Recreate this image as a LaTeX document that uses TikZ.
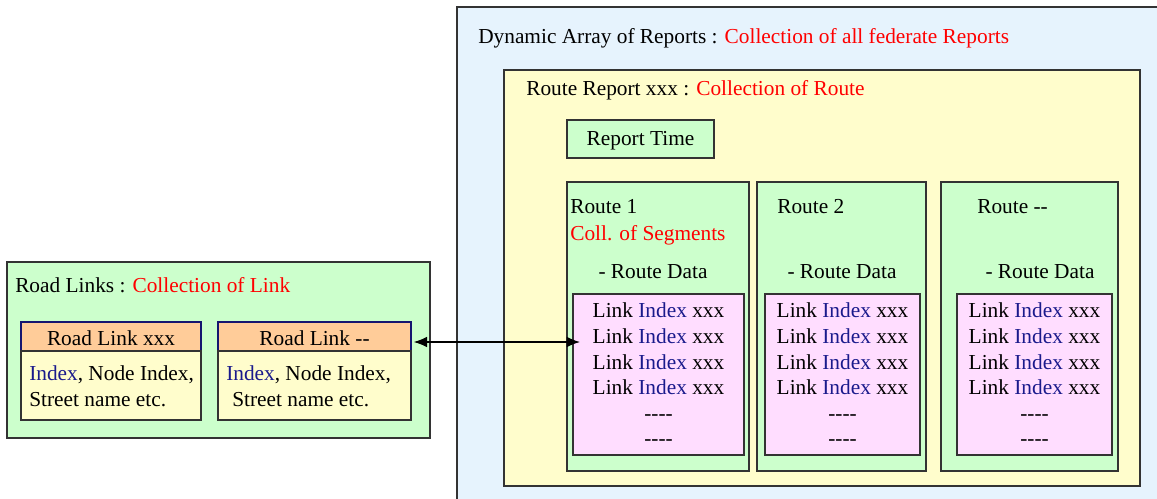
\documentclass[tikz,border=0pt]{standalone}
\usepackage{fontspec}
\setmainfont{Liberation Serif}
\usetikzlibrary{arrows.meta,positioning,fit}
\definecolor{reportblue}{HTML}{E6F3FD}
\definecolor{reportyellow}{HTML}{FFFDCC}
\definecolor{routegreen}{HTML}{CCFFCC}
\definecolor{datapink}{HTML}{FFDDFF}
\definecolor{headorange}{HTML}{FFCC99}
\definecolor{idxblue}{HTML}{1A1A8C}
\newcommand\linkrow{Link \textcolor{idxblue}{Index} xxx}
\newcommand\dashrow{-{}-{}-{}-}
\newcommand\routedata{\linkrow\\\linkrow\\\linkrow\\\linkrow\\\dashrow\\\dashrow}

\begin{document}
\begin{tikzpicture}[x=0.75pt,y=-0.75pt,
font=\fontsize{16}{19.2}\selectfont,
box/.style={
% The shape:
rectangle, inner sep=0pt,
% The border:
draw=black!80, line width=1.1pt
},
container/.style={box, fill=reportblue},
report/.style={box, fill=reportyellow},
route/.style={box, fill=routegreen},
data/.style={box, fill=datapink},
head/.style={box, draw=idxblue!80!black, fill=headorange},
body/.style={box, fill=reportyellow},
caption/.style={inner sep=0pt, anchor=base west},
boxtext/.style={inner sep=0pt, align=center},
link/.style={line width=1pt, {Latex[length=10pt,width=8pt]}-{Latex[length=10pt,width=8pt]}}]

\useasboundingbox (0,0) rectangle (1157,499);
\clip (0,0) rectangle (1157,499);

% reports side
\node (reports) [container, fit={(457,7) (1175,520)}] {};
\node (reportsttl) [caption] at (478,44)
 {Dynamic Array of Reports : \textcolor{red}{Collection of all federate Reports}};
\node (rr) [report, fit={(504,70) (1140,486)}] {};
\node (rrttl) [caption] at (526,96)
 {Route Report xxx : \textcolor{red}{Collection of Route}};
\node (rtime) [route, fit={(567,120) (714,158)}] {};
\node [boxtext, yshift=-1.5pt] at (rtime.center) {Report Time};

\node (route1) [route, fit={(567,182) (749,471)}] {};
\node (route2) [route, fit={(757,182) (926,471)}] {};
\node (route3) [route, fit={(941,182) (1118,471)}] {};

\node (rt1lbl) [caption] at (570,214) {Route 1};
\node (segs) [caption] at (570,240) {\textcolor{red}{Coll. of Segments}};
\node (rt2lbl) [caption] at (777,214) {Route 2};
\node (rt3lbl) [caption] at (977,214) {Route -{}-};

\node (rd1) [caption, anchor=base] at (653,278) {- Route Data};
\node (rd2) [caption, anchor=base] at (842,278) {- Route Data};
\node (rd3) [caption, anchor=base] at (1040,278) {- Route Data};

\node (data1) [data, fit={(573,294) (744,455)}] {};
\node (data2) [data, fit={(765,294) (920,455)}] {};
\node (data3) [data, fit={(957,294) (1112,455)}] {};
\node [boxtext] at (data1.center) {\routedata};
\node [boxtext] at (data2.center) {\routedata};
\node [boxtext] at (data3.center) {\routedata};

% road links side
\node (roads) [route, fit={(7,262) (430,438)}] {};
\node (roadsttl) [caption] at (15,292) {Road Links : \textcolor{red}{Collection of Link}};

\node (rlhead1) [head, fit={(21,322) (201,351)}] {};
\node [boxtext, yshift=-1.5pt] at (rlhead1.center) {Road Link xxx};
\node (rlbody1) [body, fit={(21,351) (201,420)}] {};
\node (rltext1) [caption, anchor=west, align=left] at (29,386.5)
 {\textcolor{idxblue}{Index}, Node Index,\\Street name etc.};

\node (rlhead2) [head, fit={(218,322) (411,351)}] {};
\node [boxtext, yshift=-1.5pt] at (rlhead2.center) {Road Link -{}-};
\node (rlbody2) [body, fit={(218,351) (411,420)}] {};
\node (rltext2) [caption, anchor=west, align=left] at (226,386.5)
 {\textcolor{idxblue}{Index}, Node Index,\\\hspace*{4.5pt}Street name etc.};

\coordinate (linkin) at (580,342);
\draw [link] ([xshift=1.5pt]rlhead2.east |- linkin) -- (linkin);
\end{tikzpicture}
\end{document}
